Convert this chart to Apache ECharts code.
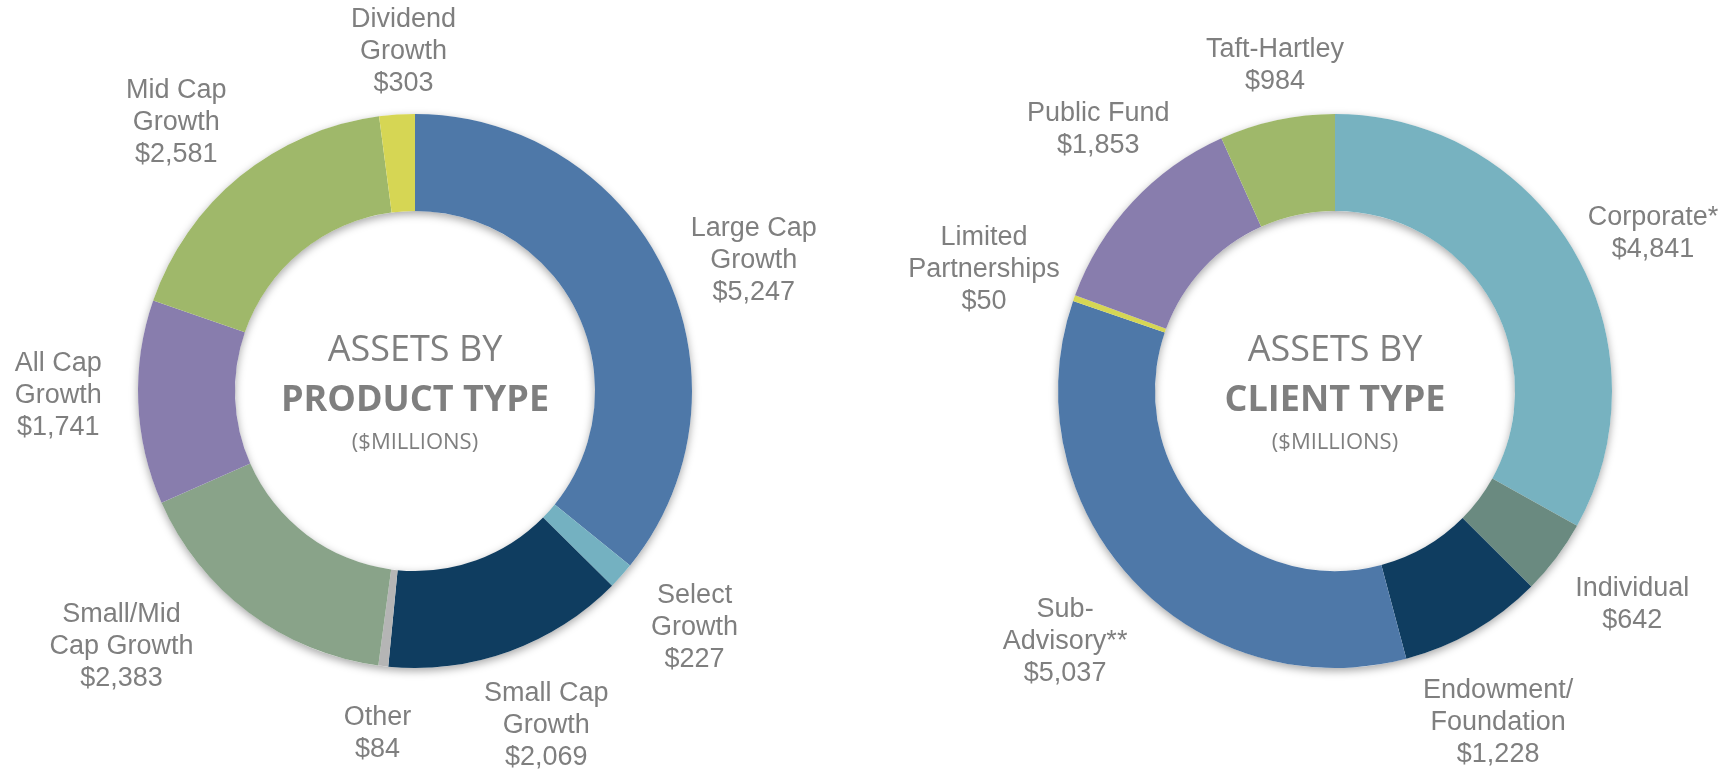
<!DOCTYPE html>
<html>
<head>
<meta charset="utf-8">
<title>Assets by product type / client type</title>
<script src="https://cdn.jsdelivr.net/npm/echarts@6/dist/echarts.min.js"></script>
<style>
  html, body { margin: 0; padding: 0; background: #fff; }
  #main { width: 1734px; height: 769px; }
</style>
</head>
<body>
<div id="main"></div>
<script>
// 产品类型 (clockwise from 12 o'clock)
const productNames = ['Large Cap\nGrowth', 'Select\nGrowth', 'Small Cap\nGrowth', 'Other',
  'Small/Mid\nCap Growth', 'All Cap\nGrowth', 'Mid Cap\nGrowth', 'Dividend\nGrowth']
const productValues = [5247, 227, 2069, 84, 2383, 1741, 2581, 303]

// 客户类型
const clientNames = ['Corporate*', 'Individual', 'Endowment/\nFoundation', 'Sub-\nAdvisory**',
  'Limited\nPartnerships', 'Public Fund', 'Taft-Hartley']
const clientValues = [4841, 642, 1228, 5037, 50, 1853, 984]

const productTitle = 'PRODUCT TYPE'
const clientTitle = 'CLIENT TYPE'

// 样式 / 布局
const productColors = ['#4e78a8', '#74b1c1', '#0f3d60', '#b5b5b5', '#89a389', '#887dad', '#9fb86a', '#d6d654']
const clientColors = ['#77b2c0', '#6a8a80', '#0f3d60', '#4e78a8', '#d6d654', '#887dad', '#9fb86a']
const radius = [180, 277]
const labelR = 362
const productNudge = [[12, 25], [10, -5], [8, -6], [4, -17], [-76, -34], [5, -10], [-10, 12], [12, 22]]
const clientNudge = [[6, 26], [8, -4], [-18, 18], [-5, 4], [-10, 0], [28, -15], [16, 29]]
const grey = '#7f7f7f'

const chart = echarts.init(document.getElementById('main'))

function ring (center, title) {
  return {
    type: 'pie',
    z: 1,
    silent: true,
    center: center,
    radius: radius,
    animation: false,
    itemStyle: {
      color: '#fff',
      shadowBlur: 8,
      shadowOffsetY: 3,
      shadowColor: 'rgba(0,0,0,0.35)'
    },
    label: {
      show: true,
      position: 'center',
      offset: [0, 2],
      formatter: '{a|ASSETS BY}\n{b|' + title + '}\n{c|($MILLIONS)}',
      rich: {
        a: { fontFamily: 'Open Sans', fontSize: 36, color: grey, lineHeight: 52 },
        b: { fontFamily: 'Open Sans', fontSize: 36, fontWeight: 'bold', color: grey, lineHeight: 48 },
        c: { fontFamily: 'Open Sans', fontSize: 22, color: grey, lineHeight: 36 }
      }
    },
    labelLine: { show: false },
    emphasis: { disabled: true },
    data: [{ value: 1, name: '' }]
  }
}

function donut (names, values, colors, center, nudge) {
  const total = values.reduce((s, v) => s + v, 0)
  const mids = []
  let acc = 0
  values.forEach(v => {
    mids.push((acc + v / 2) / total * Math.PI * 2)
    acc += v
  })
  return {
    type: 'pie',
    z: 2,
    center: center,
    radius: radius,
    startAngle: 90,
    clockwise: true,
    avoidLabelOverlap: false,
    animation: false,
    itemStyle: { borderWidth: 0 },
    label: {
      show: true,
      position: 'outside',
      fontFamily: 'Liberation Sans',
      fontSize: 27,
      lineHeight: 32,
      color: grey,
      formatter: p => p.name + '\n$' + p.value.toLocaleString('en-US')
    },
    labelLine: { show: false },
    labelLayout: function (params) {
      const i = params.dataIndex
      const a = mids[i]
      return {
        x: center[0] + labelR * Math.sin(a) + nudge[i][0],
        y: center[1] - labelR * Math.cos(a) + nudge[i][1],
        align: 'center',
        verticalAlign: 'middle'
      }
    },
    emphasis: { disabled: true },
    data: names.map((n, i) => ({ name: n, value: values[i], itemStyle: { color: colors[i] } }))
  }
}

const leftCenter = [415, 391]
const rightCenter = [1335, 391]

const option = {
  backgroundColor: '#fff',
  series: [
    ring(leftCenter, productTitle),
    donut(productNames, productValues, productColors, leftCenter, productNudge),
    ring(rightCenter, clientTitle),
    donut(clientNames, clientValues, clientColors, rightCenter, clientNudge)
  ]
}
chart.setOption(option)
</script>
</body>
</html>
